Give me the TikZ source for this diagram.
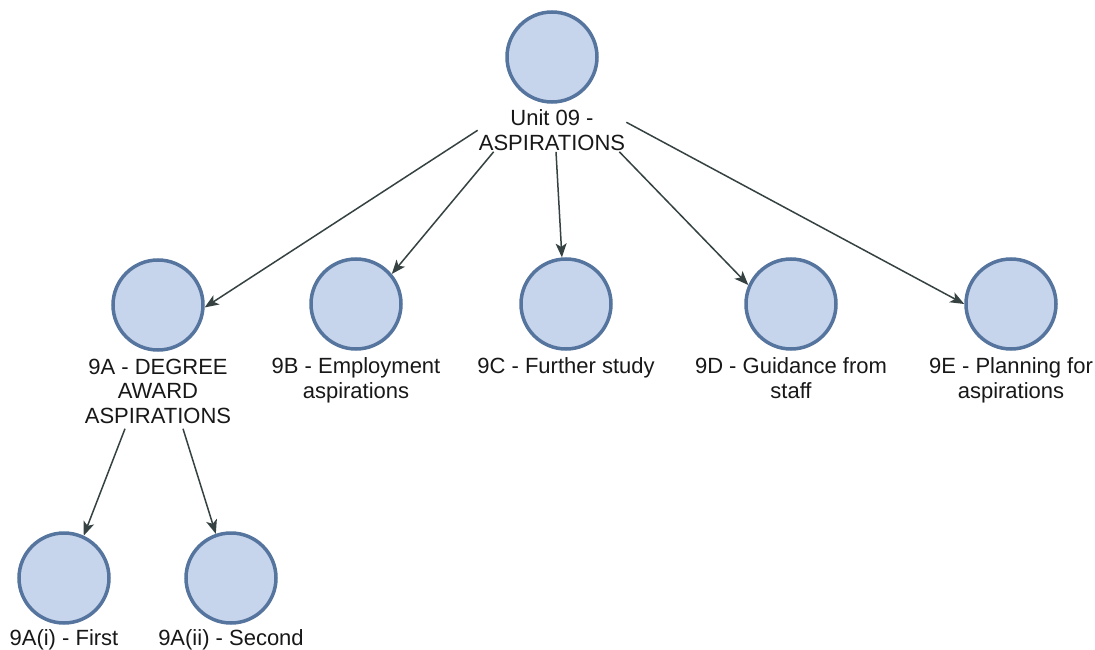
\documentclass[tikz,border=0pt]{standalone}
\usepackage{fontspec}
\setmainfont{Liberation Sans}
\usetikzlibrary{arrows.meta}
\definecolor{nodefill}{HTML}{C6D4EC}
\definecolor{nodeline}{HTML}{56759E}
\definecolor{linkcol}{HTML}{364242}
\definecolor{textcol}{HTML}{181818}
\begin{document}
\begin{tikzpicture}[x=1pt,y=-1pt,
  topic/.style={circle,draw=nodeline,fill=nodefill,line width=3.5pt,minimum size=90pt,inner sep=0pt},
  caption/.style={anchor=north,align=center,inner sep=1pt,text=textcol,font=\fontsize{22}{24.5}\selectfont},
  link/.style={draw=linkcol,line width=1.5pt,-{Stealth[length=14pt,width=11pt,inset=3.5pt]}}]
\useasboundingbox[fill=white] (0,0) rectangle (1095,650);

% root
\node[topic] (u9) at (552,57) {};
\node[caption] (u9l) at ([yshift=-5pt]u9.south) {Unit 09 -\\ASPIRATIONS};

% second level
\node[topic] (a) at (158,305) {};
\node[topic] (b) at (356,304) {};
\node[topic] (c) at (566,304) {};
\node[topic] (d) at (791,304) {};
\node[topic] (e) at (1011,304) {};
\node[caption] (al) at ([yshift=-6pt]a.south) {9A - DEGREE\\AWARD\\ASPIRATIONS};
\node[caption] (bl) at ([yshift=-6pt]b.south) {9B - Employment\\aspirations};
\node[caption] (cl) at ([yshift=-6pt]c.south) {9C - Further study};
\node[caption] (dl) at ([yshift=-6pt]d.south) {9D - Guidance from\\staff};
\node[caption] (el) at ([yshift=-6pt]e.south) {9E - Planning for\\aspirations};

% third level
\node[topic] (ai) at (64,578) {};
\node[topic] (aii) at (231,578) {};
\node[caption] (ail) at ([yshift=-4pt]ai.south) {9A(i) - First};
\node[caption] (aiil) at ([yshift=-4pt]aii.south) {9A(ii) - Second};

% connectors
\draw[link] (u9l.west) -- (a.-3);
\draw[link] ([xshift=16pt]u9l.south west) -- (b.40);
\draw[link] ([xshift=4pt]u9l.south) -- (c.95);
\draw[link] ([xshift=-7pt]u9l.south east) -- (d.156);
\draw[link] ([yshift=8pt]u9l.east) -- (e.180);
\draw[link] ([xshift=-33pt,yshift=-4pt]al.south) -- (ai.65);
\draw[link] ([xshift=25pt,yshift=-4pt]al.south) -- (aii.109);
\end{tikzpicture}
\end{document}
